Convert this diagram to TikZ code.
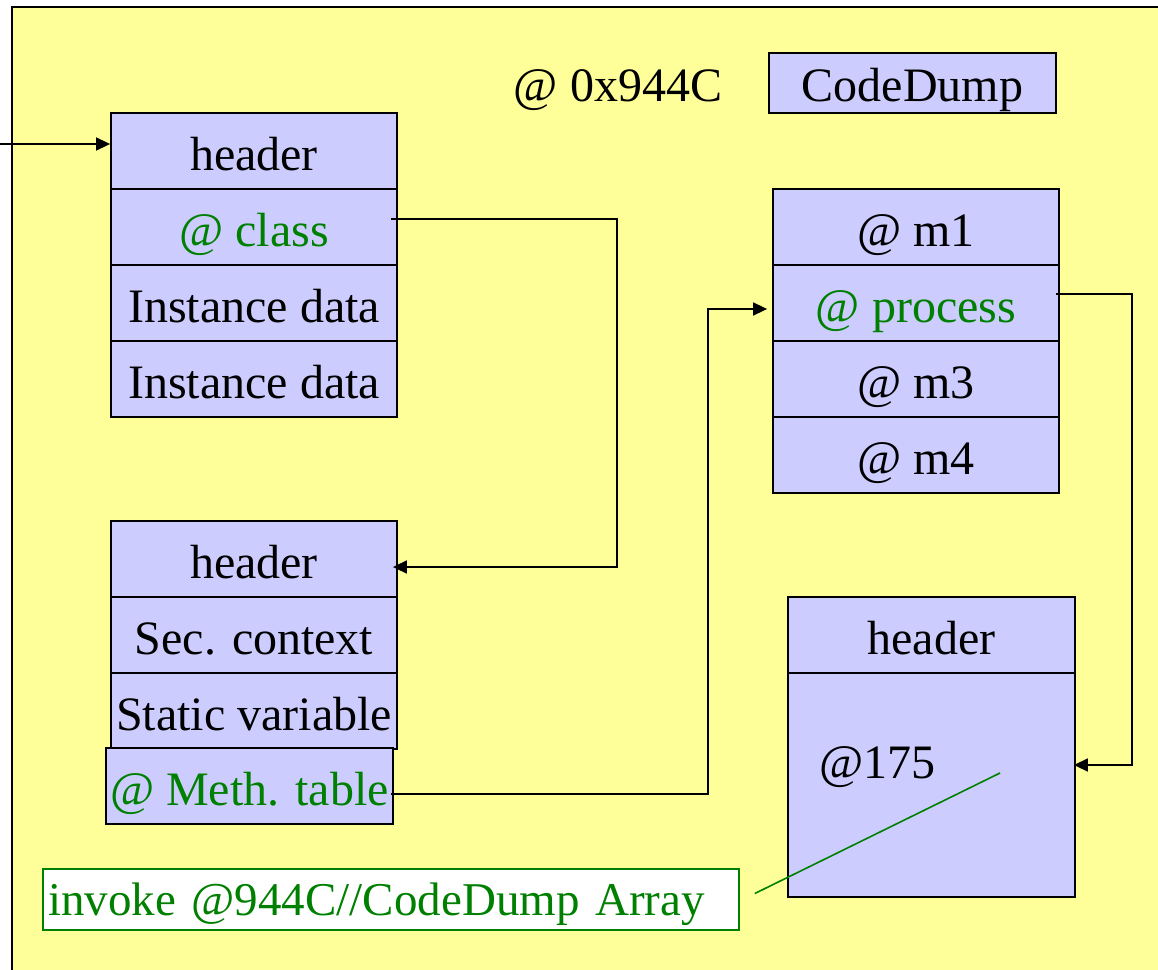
\documentclass[tikz,border=0pt]{standalone}
\usepackage{fontspec}
\setmainfont{Liberation Serif}
\usetikzlibrary{arrows.meta}
\definecolor{bg}{HTML}{FFFF99}
\definecolor{cellblue}{HTML}{CCCCFF}
\definecolor{ptrgreen}{HTML}{008000}
\begin{document}
\begin{tikzpicture}[x=1pt, y=-1pt,
  txt/.style={font=\fontsize{48}{56}\selectfont},
  cell/.style={txt, draw=black, line width=1.8pt, fill=cellblue,
    minimum width=286pt, minimum height=76pt, inner sep=0pt,
    text height=38pt, text depth=0pt},
  conn/.style={draw=black, line width=1.6pt, -{Triangle[length=14pt,width=13pt]}},
  note/.style={font=\fontsize{47}{56}\selectfont, draw=ptrgreen, line width=1.6pt,
    fill=white, text=ptrgreen, text width=686pt, align=left, inner xsep=5pt,
    minimum height=61pt, inner ysep=0pt, text height=31pt, text depth=0pt}]
\useasboundingbox (0,0) rectangle (1158,969);

% slide background
\fill[bg] (12,7) rectangle (1170,980);
\draw[black, line width=1.8pt] (12,980) -- (12,7) -- (1170,7);

% object instance
\node[cell] (o1h) at (254,151) {header};
\node[cell] (o1c) at (254,227) {\textcolor{ptrgreen}{@ class}};
\node[cell] (o1d) at (254,303) {Instance data};
\node[cell] (o1e) at (254,379) {Instance data};

% class object
\node[cell] (c2h) at (254,559) {header};
\node[cell] (c2s) at (254,635) {Sec. context};
\node[cell] (c2v) at (254,711) {Static variable};
\node[cell, minimum width=287pt] (c2m) at (249.5,786) {\textcolor{ptrgreen}{@ Meth. table}};

% method table
\node[cell] (m1) at (916,227) {@ m1};
\node[cell] (mp) at (916,303) {\textcolor{ptrgreen}{@ process}};
\node[cell] (m3) at (916,379) {@ m3};
\node[cell] (m4) at (916,455) {@ m4};

% address label and CodeDump box
\node[txt, anchor=base, inner sep=0pt] (addr) at (618,101) {@ 0x944C};
\node[cell, minimum width=287pt, minimum height=60pt, text height=36pt] (cd) at (912.5,83) {CodeDump};

% code array
\node[cell, minimum width=287pt] (ah) at (931.5,635) {header};
\node[cell, minimum width=287pt, minimum height=224pt] (ab) at (931.5,785) {};
\node[txt, anchor=base west, inner sep=0pt] (a175) at (819,778) {@175};

% bytecode note
\node[note] (inv) at (391,899.5) {invoke @944C//CodeDump Array};

% connectors
\coordinate (src) at (0,144);
\draw[conn] (src) -- ([shift={(0,-7)}]o1h.west);
\draw[conn] ([shift={(-7,-8)}]o1c.east) -| (617,567) -- ([shift={(-5,8)}]c2h.east);
\draw[conn] ([shift={(-3,8)}]c2m.east) -| (708,309) -- ([shift={(-5,6)}]mp.west);
\draw[conn] ([shift={(-4,-9)}]mp.east) -| (1132,765) -- ([shift={(-2,-20)}]ab.east);
\coordinate (tgt) at (1000,773);
\draw[ptrgreen, line width=1.6pt] (tgt) -- ([shift={(15,-6)}]inv.east);
\end{tikzpicture}
\end{document}
